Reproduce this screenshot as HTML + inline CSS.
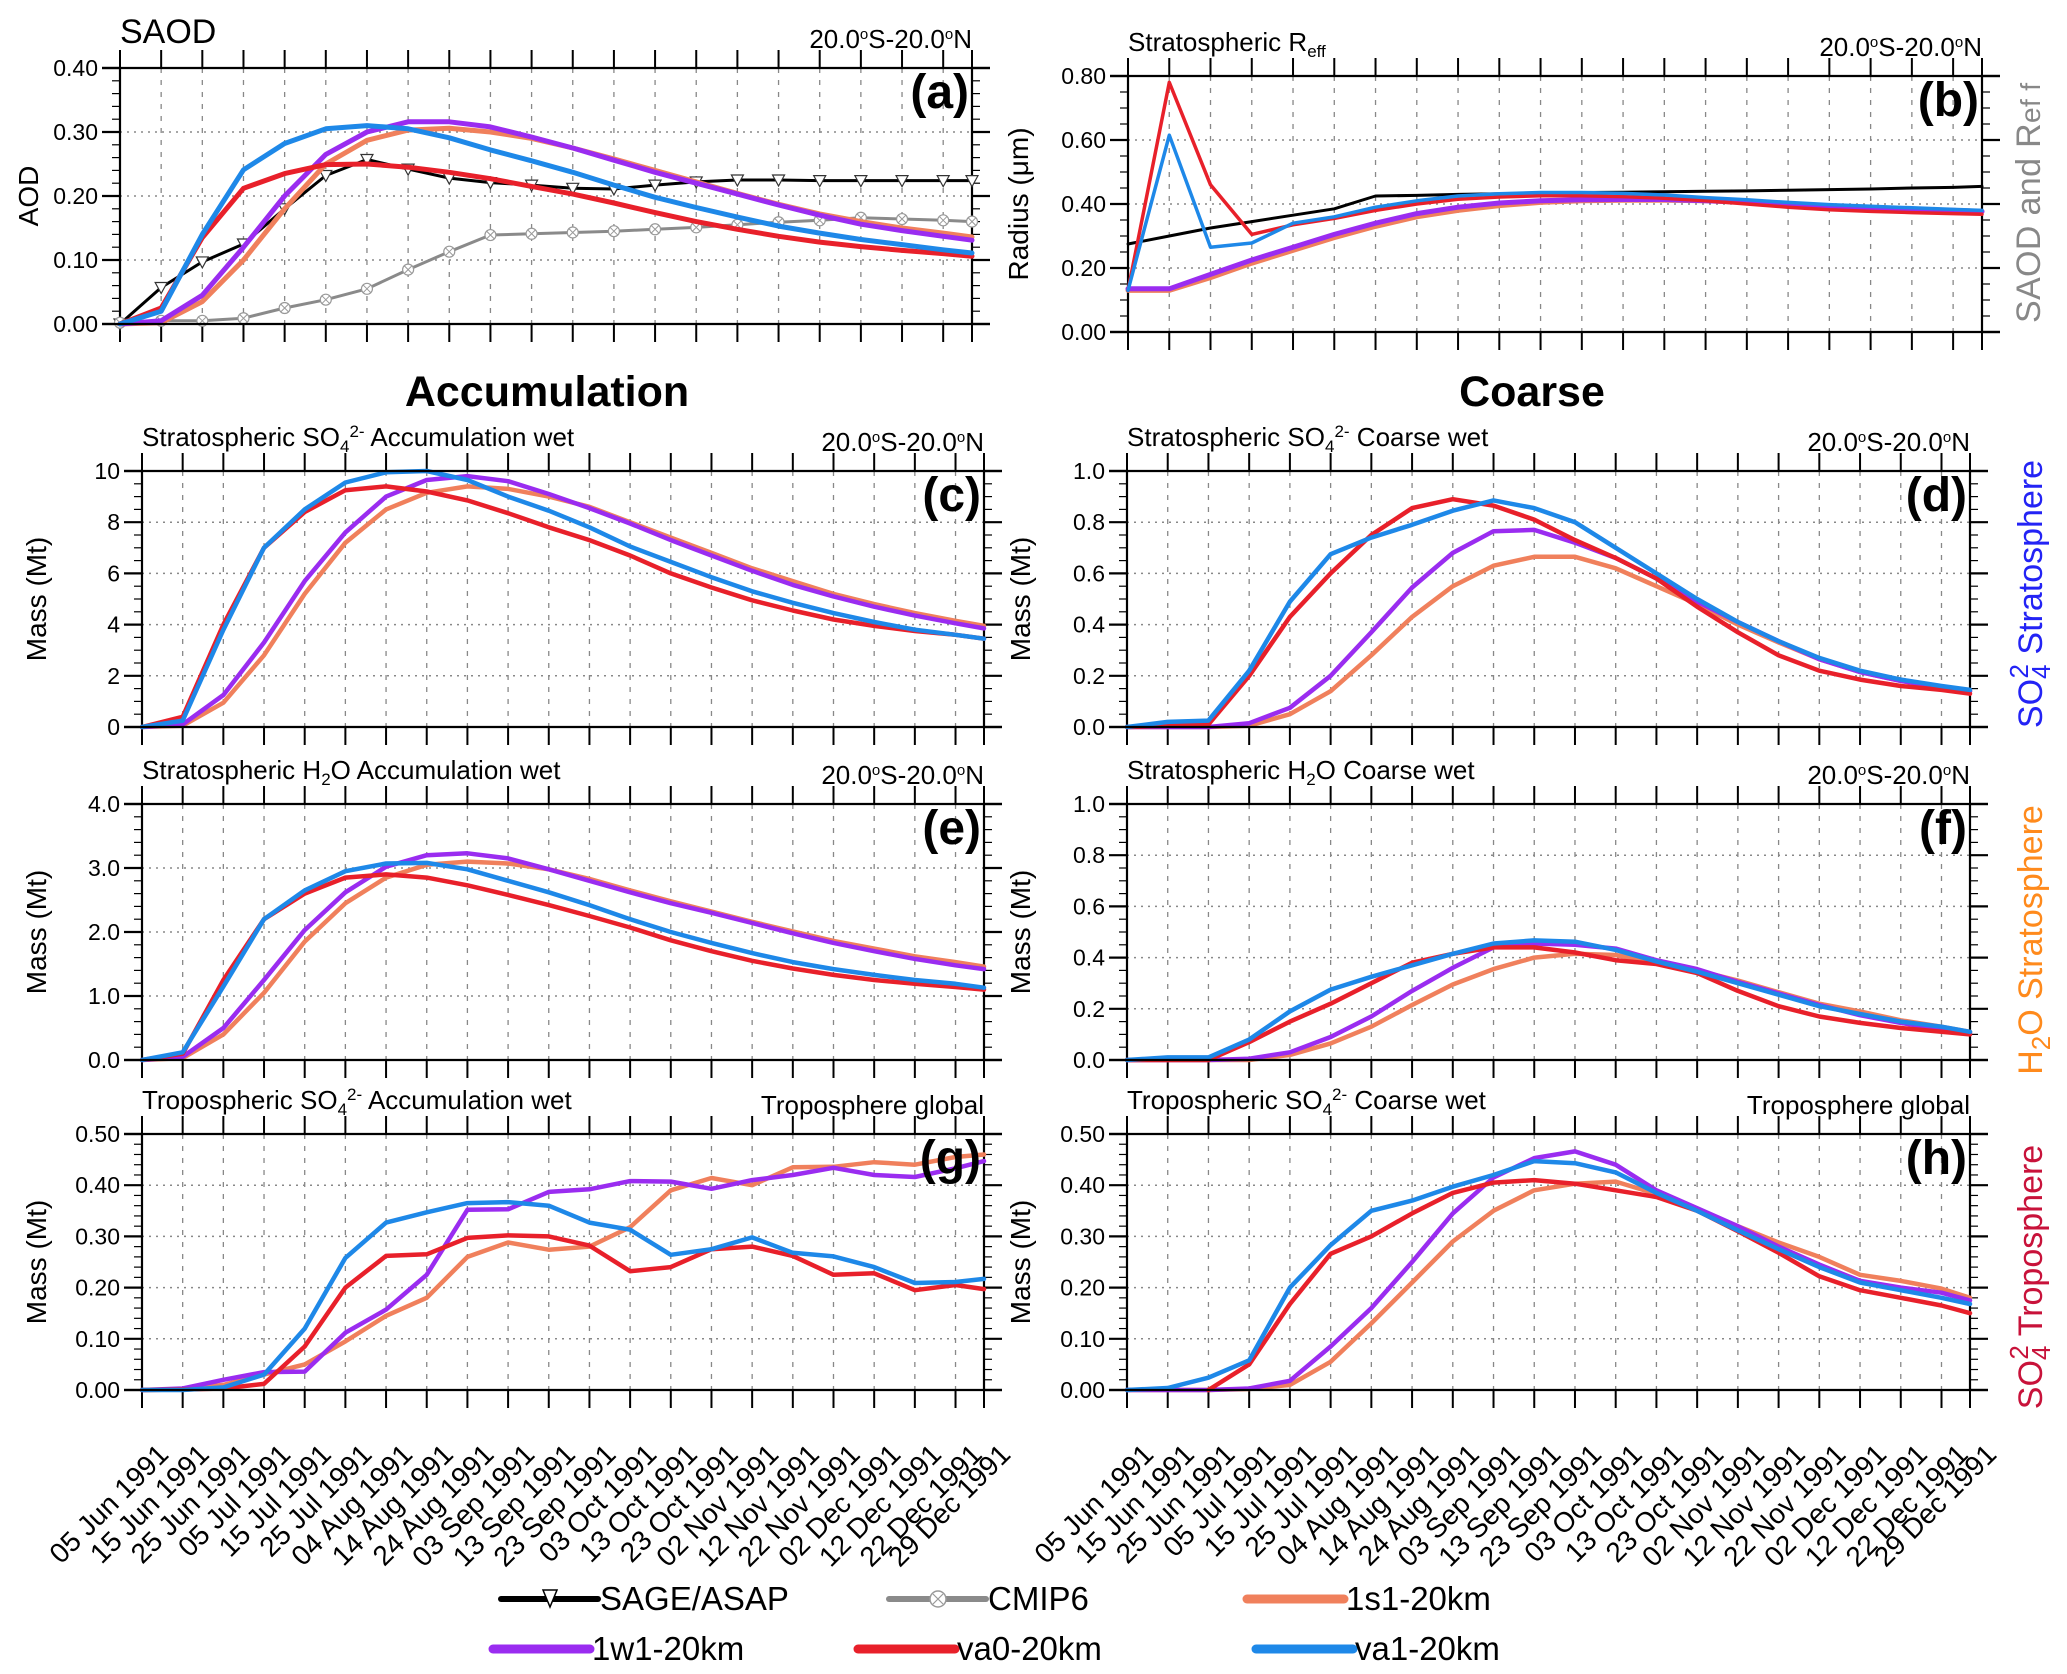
<!DOCTYPE html>
<html><head><meta charset="utf-8">
<style>
html,body{margin:0;padding:0;background:#fff;}
svg{display:block;font-family:"Liberation Sans",sans-serif;}
</style></head>
<body>
<svg id="fig" width="2067" height="1674" viewBox="0 0 2067 1674" xmlns="http://www.w3.org/2000/svg"></svg>
<script>
// ---- data ----
const dateLabels = ["05 Jun 1991","15 Jun 1991","25 Jun 1991","05 Jul 1991","15 Jul 1991","25 Jul 1991","04 Aug 1991","14 Aug 1991","24 Aug 1991","03 Sep 1991","13 Sep 1991","23 Sep 1991","03 Oct 1991","13 Oct 1991","23 Oct 1991","02 Nov 1991","12 Nov 1991","22 Nov 1991","02 Dec 1991","12 Dec 1991","22 Dec 1991","29 Dec 1991"];
const dayOffsets = [0,10,20,30,40,50,60,70,80,90,100,110,120,130,140,150,160,170,180,190,200,207];

const aSage  = [0,0.057,0.097,0.125,0.18,0.232,0.257,0.242,0.228,0.221,0.217,0.212,0.211,0.217,0.222,0.225,0.225,0.224,0.224,0.224,0.224,0.224];
const aCmip  = [0.002,0.005,0.005,0.009,0.025,0.038,0.055,0.085,0.113,0.139,0.141,0.143,0.145,0.148,0.151,0.155,0.159,0.162,0.166,0.164,0.162,0.16];
const a1s1   = [0,0.002,0.035,0.10,0.18,0.25,0.287,0.303,0.306,0.30,0.29,0.275,0.258,0.24,0.222,0.204,0.187,0.172,0.16,0.15,0.142,0.136];
const a1w1   = [0,0.005,0.045,0.12,0.2,0.265,0.3,0.316,0.316,0.308,0.292,0.275,0.256,0.237,0.22,0.203,0.186,0.17,0.156,0.146,0.137,0.131];
const aVa0   = [0,0.025,0.135,0.212,0.235,0.249,0.25,0.245,0.237,0.227,0.215,0.203,0.189,0.174,0.16,0.148,0.137,0.128,0.121,0.115,0.11,0.106];
const aVa1   = [0,0.02,0.14,0.241,0.282,0.305,0.31,0.305,0.291,0.272,0.255,0.237,0.217,0.198,0.182,0.167,0.153,0.142,0.132,0.124,0.116,0.111];

const bSage  = [0.275,0.30,0.325,0.345,0.365,0.385,0.425,0.427,0.43,0.432,0.434,0.436,0.437,0.438,0.44,0.441,0.443,0.445,0.447,0.45,0.452,0.455];
const b1s1   = [0.13,0.13,0.17,0.215,0.255,0.295,0.33,0.36,0.38,0.395,0.405,0.41,0.412,0.412,0.41,0.405,0.398,0.392,0.387,0.383,0.38,0.377];
const b1w1   = [0.135,0.135,0.18,0.225,0.265,0.305,0.34,0.37,0.39,0.403,0.41,0.413,0.414,0.414,0.41,0.405,0.398,0.392,0.387,0.383,0.38,0.377];
const bVa0   = [0.13,0.78,0.46,0.305,0.335,0.355,0.38,0.40,0.415,0.422,0.426,0.426,0.423,0.418,0.41,0.40,0.39,0.382,0.377,0.373,0.37,0.368];
const bVa1   = [0.13,0.615,0.265,0.278,0.34,0.36,0.39,0.41,0.425,0.432,0.436,0.436,0.433,0.428,0.42,0.413,0.405,0.398,0.393,0.388,0.383,0.38];

const c1s1 = [0,0.05,0.95,2.8,5.2,7.2,8.5,9.15,9.4,9.3,9.0,8.6,8.0,7.4,6.8,6.2,5.7,5.2,4.8,4.45,4.15,3.95];
const c1w1 = [0,0.1,1.25,3.3,5.7,7.6,9.0,9.65,9.8,9.6,9.1,8.55,7.95,7.3,6.7,6.1,5.55,5.1,4.7,4.35,4.05,3.85];
const cVa0 = [0,0.4,4.0,7.0,8.4,9.25,9.4,9.2,8.85,8.35,7.8,7.3,6.7,6.0,5.45,4.95,4.55,4.2,3.95,3.75,3.6,3.45];
const cVa1 = [0,0.25,3.8,7.0,8.5,9.55,9.95,10.0,9.65,9.0,8.45,7.8,7.05,6.45,5.85,5.3,4.85,4.45,4.1,3.8,3.6,3.45];

const d1s1 = [0,0,0,0.005,0.05,0.14,0.28,0.43,0.55,0.63,0.665,0.665,0.62,0.55,0.48,0.4,0.33,0.265,0.215,0.18,0.155,0.14];
const d1w1 = [0,0,0,0.015,0.075,0.2,0.37,0.545,0.68,0.765,0.77,0.72,0.66,0.58,0.49,0.41,0.335,0.265,0.215,0.18,0.155,0.14];
const dVa0 = [0,0.005,0.01,0.2,0.43,0.6,0.75,0.855,0.89,0.865,0.81,0.73,0.66,0.58,0.47,0.37,0.28,0.22,0.185,0.16,0.145,0.13];
const dVa1 = [0,0.02,0.025,0.22,0.49,0.675,0.74,0.79,0.845,0.885,0.855,0.8,0.7,0.6,0.5,0.41,0.335,0.27,0.22,0.185,0.16,0.145];

const e1s1 = [0,0.03,0.4,1.05,1.85,2.45,2.85,3.05,3.1,3.07,2.98,2.83,2.65,2.48,2.32,2.16,2.01,1.86,1.74,1.62,1.53,1.46];
const e1w1 = [0,0.05,0.5,1.25,2.03,2.62,3.02,3.2,3.23,3.15,2.98,2.8,2.62,2.45,2.3,2.14,1.98,1.83,1.7,1.58,1.48,1.42];
const eVa0 = [0,0.1,1.25,2.2,2.6,2.85,2.9,2.85,2.73,2.58,2.42,2.25,2.07,1.87,1.7,1.55,1.43,1.33,1.25,1.19,1.14,1.1];
const eVa1 = [0,0.12,1.15,2.2,2.65,2.95,3.07,3.08,2.98,2.8,2.62,2.42,2.2,2.0,1.83,1.67,1.53,1.42,1.33,1.25,1.19,1.13];

const f1s1 = [0,0,0,0,0.02,0.065,0.13,0.215,0.295,0.355,0.4,0.415,0.41,0.38,0.35,0.31,0.265,0.22,0.19,0.155,0.13,0.11];
const f1w1 = [0,0,0,0.005,0.03,0.09,0.17,0.27,0.36,0.44,0.455,0.45,0.435,0.39,0.355,0.305,0.26,0.215,0.175,0.145,0.12,0.105];
const fVa0 = [0,0,0,0.07,0.15,0.22,0.3,0.38,0.415,0.44,0.44,0.42,0.39,0.375,0.34,0.27,0.21,0.17,0.145,0.125,0.11,0.1];
const fVa1 = [0,0.01,0.01,0.08,0.19,0.275,0.325,0.37,0.415,0.455,0.467,0.462,0.43,0.385,0.345,0.3,0.255,0.21,0.18,0.15,0.13,0.11];

const g1s1 = [0,0.001,0.01,0.03,0.05,0.095,0.145,0.18,0.26,0.288,0.274,0.28,0.318,0.39,0.414,0.4,0.435,0.436,0.445,0.44,0.455,0.46];
const g1w1 = [0,0.003,0.02,0.035,0.036,0.112,0.157,0.225,0.352,0.353,0.387,0.392,0.408,0.407,0.393,0.41,0.42,0.434,0.42,0.416,0.433,0.447];
const gVa0 = [0,0.001,0.003,0.012,0.085,0.2,0.262,0.265,0.297,0.302,0.3,0.282,0.232,0.24,0.275,0.28,0.262,0.225,0.228,0.195,0.205,0.197];
const gVa1 = [0,0,0.005,0.03,0.12,0.258,0.327,0.347,0.365,0.367,0.36,0.327,0.313,0.264,0.275,0.298,0.268,0.261,0.24,0.209,0.211,0.217];

const h1s1 = [0,0,0,0.002,0.01,0.055,0.13,0.21,0.29,0.35,0.39,0.403,0.407,0.383,0.352,0.32,0.288,0.26,0.225,0.213,0.198,0.18];
const h1w1 = [0,0,0,0.003,0.018,0.085,0.16,0.25,0.345,0.415,0.453,0.466,0.44,0.39,0.355,0.32,0.28,0.245,0.213,0.2,0.19,0.175];
const hVa0 = [null,null,0,0.05,0.168,0.266,0.3,0.345,0.385,0.405,0.41,0.403,0.39,0.377,0.35,0.31,0.268,0.222,0.195,0.18,0.165,0.15];
const hVa1 = [0,0.004,0.024,0.058,0.2,0.283,0.35,0.37,0.397,0.42,0.447,0.443,0.425,0.385,0.35,0.312,0.275,0.24,0.21,0.195,0.18,0.168];

const aTicks = ["0.00","0.10","0.20","0.30","0.40"];
const bTicks = ["0.00","0.20","0.40","0.60","0.80"];
const cTicks = ["0","2","4","6","8","10"];
const dTicks = ["0.0","0.2","0.4","0.6","0.8","1.0"];
const eTicks = ["0.0","1.0","2.0","3.0","4.0"];
const gTicks = ["0.00","0.10","0.20","0.30","0.40","0.50"];

// ---- rendering ----
const NS="http://www.w3.org/2000/svg";
const svg=document.getElementById('fig');
function mk(tag,attrs,parent){const e=document.createElementNS(NS,tag);for(const k in attrs)e.setAttribute(k,attrs[k]);(parent||svg).appendChild(e);return e;}
const COL={sage:"#000000",cmip:"#8a8a8a",s1:"#f0805c",w1:"#9a2cf0",va0:"#e8202a",va1:"#1e88e8"};

function panel(p){
  const g=mk('g',{});
  
  
  const L=p.l,R=p.r,T=p.t,B=p.t+256;
  const xs=d=>L+d/207*(R-L);
  const ys=v=>B-(v-p.min)/(p.max-p.min)*(B-T);
  dayOffsets.forEach((d,i)=>{ if(i>0&&i<dayOffsets.length-1) mk('line',{x1:xs(d),x2:xs(d),y1:T,y2:B,stroke:"#888","stroke-width":1.3,"stroke-dasharray":"5,7"},g);});
  p.ticks.forEach((t,i)=>{const v=p.min+i*p.step;const y=ys(v);
    if(i>0&&i<p.ticks.length-1) mk('line',{x1:L,x2:R,y1:y,y2:y,stroke:"#888","stroke-width":1.5,"stroke-dasharray":"2,5"},g);
    mk('line',{x1:L-18,x2:L,y1:y,y2:y,stroke:"#000","stroke-width":2.2},g);
    mk('line',{x1:R,x2:R+18,y1:y,y2:y,stroke:"#000","stroke-width":2.2},g);
    const tl=mk('text',{x:L-22,y:y+8,"text-anchor":"end","font-size":23},g);tl.textContent=t;
    
    
  });
  for(let v=p.min+p.minor;v<p.max-1e-9;v+=p.minor){const y=ys(v);
    mk('line',{x1:L-8,x2:L,y1:y,y2:y,stroke:"#000","stroke-width":1.2},g);
    mk('line',{x1:R,x2:R+8,y1:y,y2:y,stroke:"#000","stroke-width":1.2},g);}
  dayOffsets.forEach(d=>{const x=xs(d);
    mk('line',{x1:x,x2:x,y1:T-18,y2:T,stroke:"#000","stroke-width":2},g);
    mk('line',{x1:x,x2:x,y1:B,y2:B+18,stroke:"#000","stroke-width":2},g);});
  mk('line',{x1:L,x2:L,y1:T,y2:B,stroke:"#000","stroke-width":2.2},g);
  mk('line',{x1:R,x2:R,y1:T,y2:B,stroke:"#000","stroke-width":2.2},g);
  p.series.forEach(s=>{
    let dstr="";let pen=false;
    s.v.forEach((v,i)=>{ if(v===null){pen=false;return;} dstr+=(pen?"L":"M")+xs(dayOffsets[i]).toFixed(1)+","+ys(v).toFixed(1); pen=true;});
    const pl=mk('path',{d:dstr,fill:"none",stroke:COL[s.c],"stroke-width":s.w,"stroke-linejoin":"round","stroke-linecap":"round"},g);
    
    
    if(s.mark){s.v.forEach((v,i)=>{if(v===null)return;const x=xs(dayOffsets[i]),y=ys(v);
      if(s.mark==='tri'){mk('path',{d:`M${x-6},${y-5}L${x+6},${y-5}L${x},${y+6}Z`,fill:"#fff",stroke:"#333","stroke-width":1.2},g);}
      else {mk('circle',{cx:x,cy:y,r:5.5,fill:"#fff",stroke:"#999","stroke-width":1.2},g);
        mk('path',{d:`M${x-4},${y-4}L${x+4},${y+4}M${x-4},${y+4}L${x+4},${y-4}`,stroke:"#999","stroke-width":1},g);}
    });}
  });
  mk('line',{x1:L-18,x2:R+18,y1:T,y2:T,stroke:"#000","stroke-width":2.2},g);
  mk('line',{x1:L-18,x2:R+18,y1:B,y2:B,stroke:"#000","stroke-width":2.2},g);
  const lt=mk('text',{x:R-3,y:T+40,"text-anchor":"end","font-size":48,"font-weight":"bold"},g);lt.textContent="("+p.id+")";
  
  
  const tt=mk('text',{x:L,y:T-25,"font-size":p.tsize||26},g);tt.innerHTML=p.title;
  
  
  const rt=mk('text',{x:R,y:T-20,"text-anchor":"end","font-size":26},g);rt.innerHTML=p.rtitle;
  
  
  const yl=mk('text',{transform:`translate(${p.ylx},${(T+B)/2}) rotate(-90)`,"text-anchor":"middle","font-size":28},g);yl.innerHTML=p.ylabel;
  
  
  if(p.dates){dayOffsets.forEach((d,i)=>{const x=xs(d);
    const t=mk('text',{transform:`translate(${x+28},${B+66}) rotate(-45)`,"text-anchor":"end","font-size":28},g);t.textContent=dateLabels[i];
    
    });}
}
const sup=(t)=>`<tspan baseline-shift="9" font-size="17">${t}</tspan>`;
const sub=(t)=>`<tspan baseline-shift="-6" font-size="17">${t}</tspan>`;
const region="20.0<tspan baseline-shift='9' font-size='15'>o</tspan>S-20.0<tspan baseline-shift='9' font-size='15'>o</tspan>N";
const std=(a,b,c,d)=>[{v:a,c:"s1",w:4.5},{v:b,c:"w1",w:4.5},{v:c,c:"va0",w:4.5},{v:d,c:"va1",w:4.5}];

panel({id:"a",l:120,r:972,t:68,min:0,max:0.4,step:0.1,minor:0.02,ticks:aTicks,title:"SAOD",tsize:34,rtitle:region,ylabel:"AOD",ylx:38,
  series:[{v:aSage,c:"sage",w:3,mark:"tri"},{v:aCmip,c:"cmip",w:3,mark:"circ"},{v:a1s1,c:"s1",w:5},{v:a1w1,c:"w1",w:5},{v:aVa0,c:"va0",w:5},{v:aVa1,c:"va1",w:5}]});
panel({id:"b",l:1128,r:1982,t:76,min:0,max:0.8,step:0.2,minor:0.05,ticks:bTicks,title:"Stratospheric R"+sub("eff"),rtitle:region,ylabel:"Radius (μm)",ylx:1028,
  series:[{v:bSage,c:"sage",w:3},{v:b1s1,c:"s1",w:5},{v:b1w1,c:"w1",w:5},{v:bVa0,c:"va0",w:3.5},{v:bVa1,c:"va1",w:3.5}]});
panel({id:"c",l:142,r:984,t:471,min:0,max:10,step:2,minor:0.5,ticks:cTicks,title:"Stratospheric SO"+sub("4")+sup("2-")+" Accumulation wet",rtitle:region,ylabel:"Mass (Mt)",ylx:46,series:std(c1s1,c1w1,cVa0,cVa1)});
panel({id:"d",l:1127,r:1970,t:471,min:0,max:1,step:0.2,minor:0.05,ticks:dTicks,title:"Stratospheric SO"+sub("4")+sup("2-")+" Coarse wet",rtitle:region,ylabel:"Mass (Mt)",ylx:1030,series:std(d1s1,d1w1,dVa0,dVa1)});
panel({id:"e",l:142,r:984,t:804,min:0,max:4,step:1,minor:0.2,ticks:eTicks,title:"Stratospheric H"+sub("2")+"O Accumulation wet",rtitle:region,ylabel:"Mass (Mt)",ylx:46,series:std(e1s1,e1w1,eVa0,eVa1)});
panel({id:"f",l:1127,r:1970,t:804,min:0,max:1,step:0.2,minor:0.05,ticks:dTicks,title:"Stratospheric H"+sub("2")+"O Coarse wet",rtitle:region,ylabel:"Mass (Mt)",ylx:1030,series:std(f1s1,f1w1,fVa0,fVa1)});
panel({id:"g",l:142,r:984,t:1134,min:0,max:0.5,step:0.1,minor:0.02,ticks:gTicks,title:"Tropospheric SO"+sub("4")+sup("2-")+" Accumulation wet",rtitle:"Troposphere global",ylabel:"Mass (Mt)",ylx:46,dates:true,series:std(g1s1,g1w1,gVa0,gVa1)});
panel({id:"h",l:1127,r:1970,t:1134,min:0,max:0.5,step:0.1,minor:0.02,ticks:gTicks,title:"Tropospheric SO"+sub("4")+sup("2-")+" Coarse wet",rtitle:"Troposphere global",ylabel:"Mass (Mt)",ylx:1030,dates:true,series:std(h1s1,h1w1,hVa0,hVa1)});

function txt(name,attrs,html){const t=mk('text',attrs);t.innerHTML=html;return t;}
txt('heading-accumulation',{x:547,y:406,"text-anchor":"middle","font-size":43,"font-weight":"bold"},"Accumulation");
txt('heading-coarse',{x:1532,y:406,"text-anchor":"middle","font-size":43,"font-weight":"bold"},"Coarse");
txt('side-label-saod',{transform:"translate(2040,203) rotate(-90)","text-anchor":"middle","font-size":34,fill:"#888",textLength:240},"SAOD and R<tspan font-size='28'>ef f</tspan>");
txt('side-label-so4-strat',{transform:"translate(2042,594) rotate(-90)","text-anchor":"middle","font-size":34,fill:"#2323f5"},"SO<tspan baseline-shift='-8' font-size='26'>4</tspan><tspan dx='-14' baseline-shift='14' font-size='26'>2</tspan> Stratosphere");
txt('side-label-h2o-strat',{transform:"translate(2042,940) rotate(-90)","text-anchor":"middle","font-size":34,fill:"#ff8a1c"},"H<tspan baseline-shift='-8' font-size='26'>2</tspan>O Stratosphere");
txt('side-label-so4-trop',{transform:"translate(2042,1277) rotate(-90)","text-anchor":"middle","font-size":34,fill:"#c8123a"},"SO<tspan baseline-shift='-8' font-size='26'>4</tspan><tspan dx='-14' baseline-shift='14' font-size='26'>2</tspan> Troposphere");

const legNames=["SAGE/ASAP","CMIP6","1s1-20km","1w1-20km","va0-20km","va1-20km"];
const legKeys=["sage","cmip","s1","w1","va0","va1"];
const legX=[501,889,1247,493,858,1256];
const legY=[1599,1599,1599,1649,1649,1649];
legNames.forEach((n,i)=>{
  const g=mk('g',{});
  
  
  const x=legX[i],y=legY[i];
  mk('line',{x1:x,x2:x+97,y1:y,y2:y,stroke:COL[legKeys[i]],"stroke-width":i<2?6:9,"stroke-linecap":"round"},g);
  if(i===0) mk('path',{d:`M${x+42},${y-9}L${x+56},${y-9}L${x+49},${y+8}Z`,fill:"#fff",stroke:"#000","stroke-width":1.5},g);
  if(i===1){mk('circle',{cx:x+49,cy:y,r:8,fill:"#fff",stroke:"#999","stroke-width":1.5},g);
    mk('path',{d:`M${x+44},${y-5}L${x+54},${y+5}M${x+44},${y+5}L${x+54},${y-5}`,stroke:"#999","stroke-width":1.2},g);}
  const t=mk('text',{x:x+99,y:y+11,"font-size":33},g);t.textContent=n;
});
</script>
</body></html>
